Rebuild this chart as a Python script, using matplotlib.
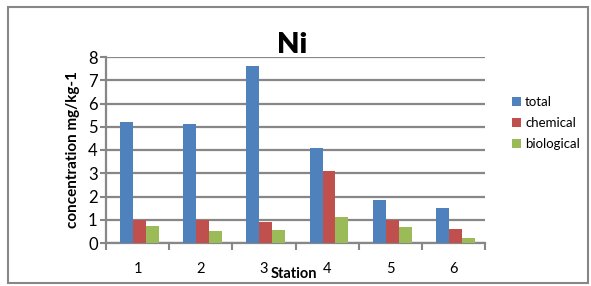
import matplotlib
matplotlib.use("Agg")
import matplotlib.pyplot as plt
from matplotlib.patches import Rectangle
import numpy as np

plt.rcParams['font.family'] = ['Lato', 'DejaVu Sans']

stations = ["1", "2", "3", "4", "5", "6"]
total = [5.2, 5.1, 7.6, 4.1, 1.85, 1.5]
chemical = [1.0, 1.0, 0.9, 3.1, 1.0, 0.6]
biological = [0.75, 0.5, 0.57, 1.1, 0.67, 0.2]
series_names = ["total", "chemical", "biological"]
colors = ["#4F81BD", "#C0504D", "#9BBB59"]

W, H = 591, 286
fig = plt.figure(figsize=(W/100, H/100), dpi=100)
ax = fig.add_axes([106/W, 1-243/H, (485-106)/W, (243-57)/H])

x = np.arange(len(stations))
bw = 0.205
for i, (vals, name, c) in enumerate(zip([total, chemical, biological], series_names, colors)):
    ax.bar(x + (i-1)*bw + 0.03, vals, bw, color=c, label=name, zorder=3)

ax.set_xlim(-0.5, 5.5)
ax.set_ylim(0, 8)
ax.set_yticks(range(0, 9))
ax.yaxis.grid(True, color="#878787", linewidth=1.6, zorder=0)
ax.set_xticks(x)
ax.set_xticklabels(stations, fontsize=10.5)
ax.set_xticks(np.arange(-0.5, 6, 1), minor=True)
ax.tick_params(axis='x', which='major', length=0, pad=14)
ax.tick_params(axis='x', which='minor', length=5, width=1.5, color="#878787")
ax.tick_params(axis='y', length=4, width=1.5, color="#878787", labelsize=12, pad=2)
for s in ["top", "right"]:
    ax.spines[s].set_visible(False)
for s in ["left", "bottom"]:
    ax.spines[s].set_color("#878787")
    ax.spines[s].set_linewidth(1.6)

ax.set_ylabel("concentration mg/kg-1", fontsize=11, fontweight="bold", labelpad=6)
fig.text(294/W, 1-274/H, "Station", fontsize=10.5, fontweight="bold", ha="center", va="center")
fig.text(292/W, 1-45/H, "Ni", fontsize=21, fontweight="heavy", ha="center", va="center")

ax.legend(loc="center left", bbox_to_anchor=(500/W, 1-123/H), bbox_transform=fig.transFigure,
          frameon=False, fontsize=9.5, handlelength=0.7, handleheight=0.7, handletextpad=0.3,
          labelspacing=0.7)

fig.patches.append(Rectangle((8/W, 1-283/H), 580/W, 276/H, transform=fig.transFigure,
                             fill=False, edgecolor="#878787", linewidth=1.5))
fig.savefig("out.png", dpi=100)
